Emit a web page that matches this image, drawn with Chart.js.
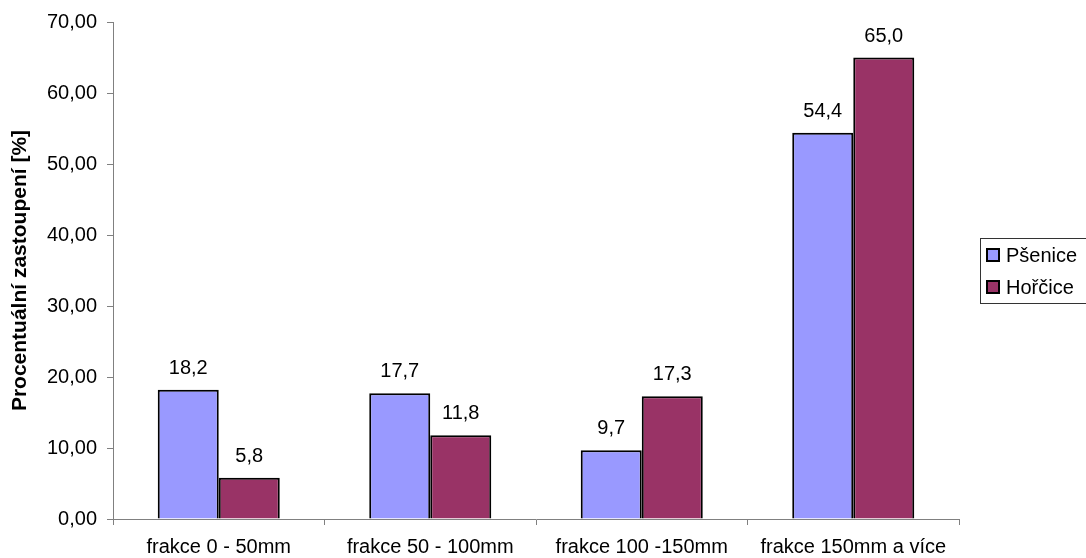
<!DOCTYPE html>
<html>
<head>
<meta charset="utf-8">
<script src="https://cdn.jsdelivr.net/npm/chart.js@4/dist/chart.umd.min.js"></script>
<style>
  html, body { margin: 0; padding: 0; background: #fff; }
  #wrap { width: 1086px; height: 558px; position: relative; }
</style>
</head>
<body>
<div id="wrap"><canvas id="c" width="1086" height="558"></canvas></div>
<script>
const categories = ['frakce 0 - 50mm', 'frakce 50 - 100mm', 'frakce 100 -150mm', 'frakce 150mm a více'];
const seriesNames = ['Pšenice', 'Hořčice'];
const psenice = [18.2, 17.7, 9.7, 54.4];
const horcice = [5.8, 11.8, 17.3, 65.0];
const yTicks = [0, 10, 20, 30, 40, 50, 60, 70];
const yTitle = 'Procentuální zastoupení [%]';

const FONT = '"Liberation Sans", Arial, sans-serif';
const colors = ['#9999FF', '#993366'];

const fmtComma = (v, d) => v.toFixed(d).replace('.', ',');

// value labels above each bar
const valueLabels = {
  id: 'valueLabels',
  afterDatasetsDraw(chart) {
    const ctx = chart.ctx;
    ctx.save();
    ctx.font = '20px ' + FONT;
    ctx.fillStyle = '#000';
    ctx.textAlign = 'center';
    ctx.textBaseline = 'alphabetic';
    chart.data.datasets.forEach((ds, i) => {
      chart.getDatasetMeta(i).data.forEach((bar, j) => {
        ctx.fillText(fmtComma(ds.data[j], 1), bar.x, bar.y - 16);
      });
    });
    ctx.restore();
  }
};

// boxed legend on the right
const boxLegend = {
  id: 'boxLegend',
  afterDraw(chart) {
    const ctx = chart.ctx;
    ctx.save();
    const x0 = 980.5, y0 = 238.5, w = 120, h = 65;
    ctx.strokeStyle = '#333';
    ctx.lineWidth = 1;
    ctx.strokeRect(x0, y0, w, h);
    ctx.font = '20px ' + FONT;
    ctx.textBaseline = 'middle';
    ctx.textAlign = 'left';
    chart.data.datasets.forEach((ds, i) => {
      const cy = 255 + i * 32;
      ctx.fillStyle = ds.backgroundColor;
      ctx.fillRect(987, cy - 6, 12, 12);
      ctx.strokeStyle = '#000';
      ctx.lineWidth = 2;
      ctx.strokeRect(987, cy - 6, 12, 12);
      ctx.fillStyle = '#000';
      ctx.fillText(ds.label, 1006, cy + 1);
    });
    ctx.restore();
  }
};

new Chart(document.getElementById('c'), {
  type: 'bar',
  data: {
    labels: categories,
    datasets: [
      { label: seriesNames[0], data: psenice, backgroundColor: colors[0], borderColor: '#000', borderWidth: 2,
        categoryPercentage: 0.577, barPercentage: 1.0 },
      { label: seriesNames[1], data: horcice, backgroundColor: colors[1], borderColor: '#000', borderWidth: 2,
        categoryPercentage: 0.577, barPercentage: 1.0 }
    ]
  },
  options: {
    responsive: false,
    animation: false,
    layout: { padding: { top: 22, right: 127, left: 0, bottom: 0 } },
    plugins: { legend: { display: false }, tooltip: { enabled: false } },
    scales: {
      x: {
        offset: true,
        grid: { offset: true, drawOnChartArea: false, drawTicks: true, tickLength: 6, color: '#808080' },
        border: { color: '#808080', width: 1 },
        ticks: { color: '#000', font: { family: FONT, size: 20 }, padding: 10, maxRotation: 0, autoSkip: false },
        afterFit(scale) { scale.height = 39; }
      },
      y: {
        min: 0, max: 70,
        afterBuildTicks(scale) { scale.ticks = yTicks.map(v => ({ value: v })); },
        grid: { drawOnChartArea: false, drawTicks: true, tickLength: 6, color: '#808080' },
        border: { color: '#808080', width: 1 },
        ticks: { color: '#000', font: { family: FONT, size: 20 }, padding: 10,
                 callback: v => fmtComma(v, 2) },
        title: { display: true, text: yTitle, color: '#000', font: { family: FONT, size: 21, weight: 'bold' }, padding: { top: 8, bottom: 0 } },
        afterFit(scale) { scale.width = 113; }
      }
    }
  },
  plugins: [valueLabels, boxLegend]
});
</script>
</body>
</html>
